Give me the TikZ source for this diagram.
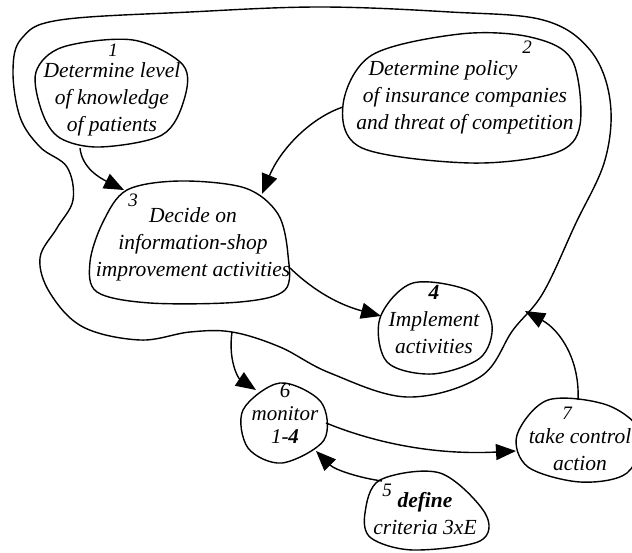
\documentclass[tikz,border=0pt]{standalone}
\usepackage{fontspec}
\setmainfont{Liberation Serif}
\usetikzlibrary{arrows.meta}
\begin{document}
\begin{tikzpicture}[x=1pt,y=-1pt,line width=1.4pt,
  lbl/.style={font=\fontsize{21.5}{27}\selectfont\itshape,align=center,inner sep=0pt},
  num/.style={font=\fontsize{19}{19}\selectfont\itshape,inner sep=0pt},
  blob/.style={smooth cycle,tension=0.55},
  arr/.style={-{Triangle[length=20pt,width=16pt]}}]
\useasboundingbox (0,0) rectangle (632,553);

% big boundary
\draw plot[smooth cycle,tension=0.6] coordinates {(22,38) (60,20) (190,12) (320,7) (450,12) (543,20) (590,50) (610,100) (605,160) (575,225) (543,293) (513,330) (480,377) (407,397) (330,373) (280,347) (232,332) (190,332) (140,340) (83,327) (50,293) (40,258) (57,228) (73,200) (67,167) (40,147) (20,117) (13,70)};

% blob 1
\draw plot[blob] coordinates {(36,72) (63,47) (133,40) (183,65) (184,100) (162,135) (100,147) (60,138) (42,112)};
\node[lbl] (t1) at (112,99) {Determine level\\of knowledge\\of patients};
\node[num] (n1) at (113,50) {1};

% blob 2
\draw plot[blob] coordinates {(343,105) (372,55) (460,34) (530,37) (572,60) (580,125) (555,153) (470,163) (362,148)};
\node[lbl] (t2) at (465,97) {Determine policy\hspace*{44pt}\\of insurance companies\\and threat of competition};
\node[num] (n2) at (527,47) {2};

% blob 3
\draw plot[blob] coordinates {(127,190) (180,181) (245,188) (278,214) (288,255) (285,290) (240,302) (150,303) (97,292) (90,262) (103,222)};
\node[lbl] (t3) at (193,244) {Decide on\\information-shop\\improvement activities};
\node[num] (n3) at (133,200) {3};

% blob 4
\draw plot[blob] coordinates {(413,283) (380,318) (387,362) (432,374) (480,358) (492,325) (472,292)};
\node[lbl] (t4) at (434,320) {\textbf{4}\\Implement\\activities};

% blob 6
\draw plot[blob] coordinates {(280,383) (243,410) (248,448) (282,463) (324,440) (321,402)};
\node[lbl,font=\fontsize{21}{23}\selectfont\itshape] (t6) at (285,414) {6\\monitor\\1-\textbf{4}};

% blob 7
\draw plot[blob] coordinates {(548,400) (517,435) (528,467) (580,482) (627,473) (641,433) (607,405)};
\node[lbl] (t7) at (580,450) {take control\\action};
\node[num] (n7) at (567,413) {7};

% blob 5
\draw plot[blob] coordinates {(380,480) (365,513) (371,538) (413,550) (480,541) (485,513) (440,473)};
\node[lbl] (t5) at (425,514) {\textbf{define}\\criteria 3xE};
\node[num] (n5) at (387,490) {5};

% connector end points
\coordinate (s13) at (80,148);
\coordinate (e13) at (124,190);
\coordinate (s23) at (343,107);
\coordinate (e23) at (262,194);
\coordinate (s34) at (290,268);
\coordinate (e34) at (381,316);
\coordinate (sb6) at (232,332);
\coordinate (e6) at (256,390);
\coordinate (s67) at (326,423);
\coordinate (e67) at (516,451);
\coordinate (s56) at (382,481);
\coordinate (e56) at (316,451);
\coordinate (s7b) at (578,400);
\coordinate (e7b) at (525,311);

\draw[arr] (s13) .. controls (82,168) and (100,178) .. (e13);
\draw[arr] (s23) .. controls (310,118) and (280,150) .. (e23);
\draw[arr] (s34) .. controls (315,292) and (340,305) .. (e34);
\draw[arr] (sb6) .. controls (228,360) and (238,378) .. (e6);
\draw[arr] (s67) .. controls (380,445) and (440,455) .. (e67);
\draw[arr] (s56) .. controls (360,478) and (335,470) .. (e56);
\draw[arr] (s7b) .. controls (580,360) and (560,330) .. (e7b);
\end{tikzpicture}
\end{document}
